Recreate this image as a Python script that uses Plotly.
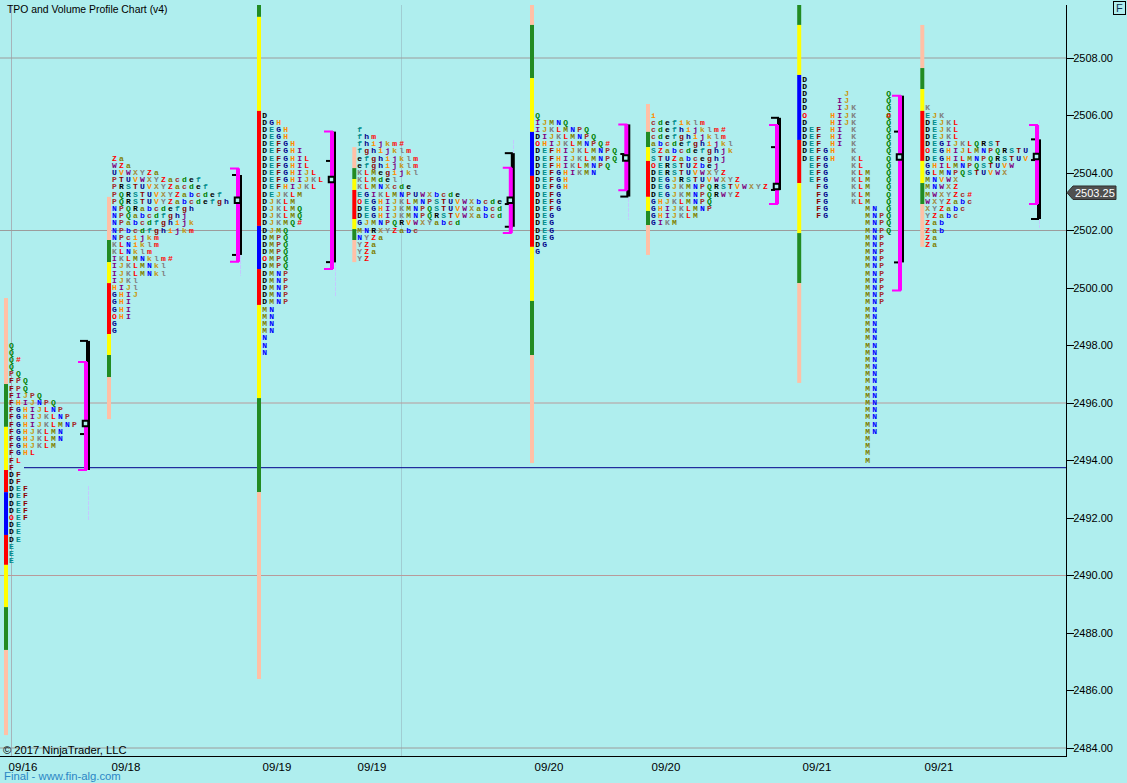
import plotly.graph_objects as go

# ---------- data ----------
PRICE_TICKS = [2484, 2486, 2488, 2490, 2492, 2494, 2496, 2498, 2500, 2502, 2504, 2506, 2508]
DATE_LABELS = ["09/16", "09/18", "09/19", "09/19", "09/20", "09/20", "09/21", "09/21"]
DATE_TIMES = [23, 126, 277, 372, 549, 666, 817, 939]

P1_TOP = 2498.00
P1_ROWS = ["Q", "Q", "Q#", "Q", "PQ", "FPQ", "FPQ", "FIJPQ", "FHIJNPQ", "FGHIJLNP", "FGHIJKLNP", "FGHIJKLMNP",
           "FGHJKLMN", "FGHJKLMN", "FGHJKLM", "FGHL", "FL", "F", "DF", "DF", "DEF", "DEF", "DEF", "DEF", "OEF",
           "DE", "DE", "DE", "E", "E", "E"]
P2_TOP = 2504.50
P2_ROWS = ["Za", "WZa", "UVWXYZa", "PTUVWXYZacdef", "PRSTUVXYZacdef", "PQRSTUVXYZabcdef", "PQRSTUVYZabcdefgh",
           "NPQRabcdefgh", "NPQabcdfghj", "NPabcdfghijk", "NPbcdfghijkm", "NPcijkm", "KLNiklm", "KLNklm",
           "IKLMNklm#", "IJKLMNkl", "IJKLMNkl", "IJKl", "HIJl", "GHIJ", "GHI", "GHI", "OHI", "G", "G"]
P3_TOP = 2506.00
P3_ROWS = ["D", "DGH", "DEGH", "DEGH", "DEFGH", "DEFGHI", "DEFGHIL", "DEFGHIL", "DEFGHIJL", "DEFGHIJKL", "DEFHIJKL",
           "DEJKLM", "DJKLM", "DJKLMQ", "DJKLMQ", "DJKMQ#", "DJMQ", "DMPQ", "DMPQ", "DMPQ", "OMPQ", "DMPQ",
           "DMNP", "DMNP", "DMNP", "DMNP", "DMNP", "MN", "MN", "MN", "MN", "N", "N", "N"]
P4_TOP = 2505.50
P4_ROWS = ["f", "fhm", "fhijkm#", "fghijklm", "efghijklm", "efghijklm", "KLMegijkl", "KLMdel", "KLMNXcde",
           "EGIKLMNPUWXbcde", "OEGHIJKLMNPSTUVWXbcde", "DEGHIJKMNPQSTUVWXabcd", "DEGHIJKMNPQRSTVWXabcd",
           "GJMNPQRVWXYabcd", "MNRXYZabc", "NYZa", "YZa", "YZa", "YZ"]
P5_TOP = 2506.00
P5_ROWS = ["Q", "IJMNQ", "IJKLMNPQ", "DIJKLMNPQ", "OHIJKLMNPQ#", "DEFHIJKLMNPQ", "DEFHIJKLMNPQ", "DEFHIKLMNPQ",
           "DEFGHIKMN", "DEFGH", "DEFGH", "DEFG", "DEFG", "DEFG", "DEG", "DEG", "DEG", "DEG", "DG", "G"]
P6_TOP = 2506.00
P6_ROWS = ["i", "cdefiklm", "cdefhijklm#", "cdefghijklm", "abcdefghijkl", "SZabcdefghjk", "STUZabceghj", "OERSTUZbej",
           "DERSTUVWXYZ", "DEGJRSTUVWXYZ", "DEGJKMNPQRSTVWXYZ", "DEGJKMNPQRWYZ", "GHJKLMNPQ", "GHIJKLMNP",
           "GHIJKLM", "GIKM"]
P7_TOP = 2507.25
P7_ROWS = ["D", "D", "DJQ", "DIJQ", "DIJKQ", "OHIJKQ", "DHIJKQ", "DEFHIKQ", "DEFHIKQ", "DEFHIKQ", "DEFGHKQ",
           "DEFGHKLQ", "EFGKLQ", "EFGKLMQ", "EFGKLMQ", "FGKLMQ", "FGKLMQ", "FGKLMQ", "FGMNQ", "FGMNPQ", "MNPQ", "MNPQ"]\
          + ["MNP"] * 10 + ["MN"] * 18 + ["M"] * 4
P7_MARK_TOP = 2506.00
P7_MARK_ROWS = ["#"]
P8_TOP = 2506.25
P8_ROWS = ["K", "EJK", "DEJKL", "DEJKL", "DEJKL", "DEGIJKLQRST", "OEGHIJLMNPQRSTU", "DEGHILMNPQRSTUV", "GHILMNPQSTUVW",
           "GLMNPQSTUVWX", "MNVWX", "MNWXZ", "MWXYZc#", "WXYZabc", "XYZabc", "YZabc", "Zab", "Zab", "Za", "Za"]

S, G, Y, R, B = "#FFC0A6", "#228B22", "#FFFF00", "#FF0000", "#0000FF"
BAR1_EDGES = [2499.65, 2496.66, 2495.17, 2493.67, 2492.90, 2491.41, 2490.37, 2488.90, 2487.41, 2484.45]
BAR1_COLS = [S, G, Y, R, B, R, Y, G, S]
BAR2_EDGES = [2503.17, 2501.67, 2500.90, 2500.17, 2498.40, 2497.67, 2496.90, 2495.44]
BAR2_COLS = [S, G, Y, R, Y, G, S]
BAR3_EDGES = [2510.00, 2509.43, 2506.16, 2502.16, 2500.66, 2499.41, 2496.17, 2492.90, 2486.40]
BAR3_COLS = [G, Y, R, B, R, Y, G, S]
BAR4_EDGES = [2504.90, 2504.17, 2503.79, 2503.41, 2502.40, 2502.05, 2501.67, 2500.90]
BAR4_COLS = [S, G, Y, R, Y, G, S]
BAR5_EDGES = [2510.00, 2509.15, 2507.30, 2505.43, 2503.90, 2501.43, 2499.55, 2497.67, 2493.91]
BAR5_COLS = [S, G, Y, B, R, Y, G, S]
BAR6_EDGES = [2506.40, 2505.43, 2504.90, 2504.42, 2503.17, 2502.68, 2502.19, 2501.15]
BAR6_COLS = [S, G, Y, R, Y, G, S]
BAR7_EDGES = [2510.00, 2509.15, 2507.41, 2505.15, 2503.65, 2501.91, 2500.17, 2496.70]
BAR7_COLS = [G, Y, B, R, Y, G, S]
BAR8_EDGES = [2509.15, 2507.65, 2506.92, 2506.16, 2504.42, 2503.65, 2502.92, 2501.43]
BAR8_COLS = [S, G, Y, R, Y, G, S]

MAGENTA_HIGH = [2497.43, 2504.16, 2505.44, 2504.18, 2505.69, 2505.67, 2506.69, 2505.67]
MAGENTA_LOW = [2493.67, 2500.91, 2500.66, 2501.91, 2503.40, 2502.92, 2499.91, 2502.92]
BLACK_HIGH = [2498.16, 2503.93, 2505.44, 2504.69, 2505.69, 2505.92, 2506.69, 2505.17]
BLACK_LOW = [2493.67, 2501.15, 2500.89, 2502.13, 2503.18, 2503.41, 2500.89, 2502.40]
BLACK_TICKS = [[2498.16, 2494.92], [2503.93, 2501.15], [2504.42, 2500.90], [2504.69, 2502.92, 2502.13],
               [2504.66, 2503.18], [2505.92, 2504.90, 2503.41], [2505.44, 2500.89], [2505.17, 2504.45, 2502.40]]
POC = [2495.29, 2503.05, 2503.77, 2503.05, 2504.52, 2503.53, 2504.56, 2504.57]
LAVENDER_HIGH = [2493.11, 2501.15, 2500.90, 2505.15, 2503.13, 2505.84]
LAVENDER_LOW = [2491.93, 2500.42, 2499.72, 2504.70, 2502.37, 2502.09]

LAST_PRICE = 2503.25
SESSION_LOW_LINE = 2493.75
GRID_PRICES = [2508, 2502, 2496, 2490, 2484]
GRID_COLS = ["#9C9C9C", "#9C9C9C", "#B89A9A", "#B89A9A", "#9C9C9C"]

LETTER_COLOURS = {
    "D": "#000000", "E": "#008B8B", "F": "#8B0000", "G": "#00008B", "H": "#FF8C00", "I": "#800080", "J": "#C8960C",
    "K": "#808080", "L": "#FF0000", "M": "#808000", "N": "#0000FF", "P": "#A52A2A", "Q": "#008000",
    "R": "#000000", "S": "#008B8B", "T": "#8B0000", "U": "#00008B", "V": "#FF8C00", "W": "#800080", "X": "#A88A40",
    "Y": "#808080", "Z": "#FF0000", "a": "#808000", "b": "#0000FF", "c": "#A52A2A", "d": "#008000",
    "e": "#000000", "f": "#008B8B", "g": "#8B0000", "h": "#00008B", "i": "#FF8C00", "j": "#800080", "k": "#C8960C",
    "l": "#808080", "m": "#FF0000", "O": "#FF0000", "#": "#FF0000",
}
FIXED_ORDER = "DEFGHIJKLMNPQ"

# ---------- layout constants ----------
W, H = 1127, 783
PLOT_R, PLOT_T, PLOT_B = 1066, 5, 756
PX_PER_POINT = 28.75
Y_TOP = 2508 + (58 - PLOT_T) / PX_PER_POINT
Y_BOT = 2484 - (PLOT_B - 748) / PX_PER_POINT
TEXT_STEP = 7.0
TPO_STEP = 0.25
BG = "#AFEEEE"

PROFILE_TEXT_X = [11.5, 114.5, 264.7, 359.7, 537.7, 653.3, 804.7, 804.7, 927.7]
BAR_X = [6, 109, 259, 354.3, 532, 648, 799.2, 922.3]
MAGENTA_X = [86, 238, 332, 510.8, 626.3, 777, 900, 1037]
LAVENDER_X = [88.5, 240.5, 335.5, 513.5, 628.5, 1039.5]


def px(x):
    return x / PLOT_R


def py(y):
    return (PLOT_B - y) / (PLOT_B - PLOT_T)


fig = go.Figure()

# stacked colour bars
for x, edges, cols in zip(BAR_X,
                          [BAR1_EDGES, BAR2_EDGES, BAR3_EDGES, BAR4_EDGES, BAR5_EDGES, BAR6_EDGES, BAR7_EDGES, BAR8_EDGES],
                          [BAR1_COLS, BAR2_COLS, BAR3_COLS, BAR4_COLS, BAR5_COLS, BAR6_COLS, BAR7_COLS, BAR8_COLS]):
    fig.add_trace(go.Bar(x=[x] * len(cols), base=edges[1:], y=[a - b for a, b in zip(edges[:-1], edges[1:])],
                         width=4, marker=dict(color=cols, line=dict(width=0)), hoverinfo="skip"))

# lavender dashes
for x, hi, lo in zip(LAVENDER_X, LAVENDER_HIGH, LAVENDER_LOW):
    fig.add_trace(go.Scatter(x=[x, x], y=[hi, lo], mode="lines", hoverinfo="skip",
                             line=dict(color="#C4C8FF", width=1, dash="4px,1px")))

# profile brackets
for i, x in enumerate(MAGENTA_X):
    fig.add_trace(go.Scatter(x=[x + 2, x + 2], y=[BLACK_HIGH[i], BLACK_LOW[i]], mode="lines", hoverinfo="skip",
                             line=dict(color="#000000", width=4)))
    for t in BLACK_TICKS[i]:
        fig.add_trace(go.Scatter(x=[x - 6, x + 2], y=[t, t], mode="lines", hoverinfo="skip",
                                 line=dict(color="#000000", width=2)))
    fig.add_trace(go.Scatter(x=[x - 8, x, x, x - 8], y=[MAGENTA_HIGH[i], MAGENTA_HIGH[i], MAGENTA_LOW[i], MAGENTA_LOW[i]],
                             mode="lines", hoverinfo="skip", line=dict(color="#FF00FF", width=2)))
    fig.add_trace(go.Scatter(x=[x, x], y=[MAGENTA_HIGH[i], MAGENTA_LOW[i]], mode="lines", hoverinfo="skip",
                             line=dict(color="#FF00FF", width=4)))
    fig.add_trace(go.Scatter(x=[x - 0.5], y=[POC[i]], mode="markers", hoverinfo="skip",
                             marker=dict(symbol="square", size=5.5, color=BG, line=dict(color="#000000", width=2))))

# TPO letters
tops = [P1_TOP, P2_TOP, P3_TOP, P4_TOP, P5_TOP, P6_TOP, P7_TOP, P7_MARK_TOP, P8_TOP]
rows_all = [P1_ROWS, P2_ROWS, P3_ROWS, P4_ROWS, P5_ROWS, P6_ROWS, P7_ROWS, P7_MARK_ROWS, P8_ROWS]
for idx, (x0, top, rows) in enumerate(zip(PROFILE_TEXT_X, tops, rows_all)):
    xs, ys, ts, cs = [], [], [], []
    fixed = idx in (6, 7)
    for r, row in enumerate(rows):
        for c, ch in enumerate(row):
            if fixed:
                col = 0 if ch == "O" else 12 if ch == "#" else FIXED_ORDER.index(ch)
            else:
                col = c
            xs.append(x0 + col * TEXT_STEP)
            ys.append(top - r * TPO_STEP)
            ts.append(ch)
            cs.append(LETTER_COLOURS[ch])
    fig.add_trace(go.Scatter(x=xs, y=ys, text=ts, mode="text", textposition="middle center", hoverinfo="skip",
                             textfont=dict(family="Liberation Mono", size=8, color=cs, weight="bold")))

shapes = []
for p, c in zip(GRID_PRICES, GRID_COLS):
    shapes.append(dict(type="line", xref="x", yref="y", x0=0, x1=PLOT_R, y0=p, y1=p, layer="below",
                       line=dict(color=c, width=1)))
shapes.append(dict(type="line", xref="x", yref="y", x0=24, x1=PLOT_R, y0=SESSION_LOW_LINE, y1=SESSION_LOW_LINE,
                   layer="below", line=dict(color="#00008B", width=1)))
for x, c in [(11.5, "#A6B4BA"), (401.5, "#A0CDD2")]:
    shapes.append(dict(type="line", xref="x", yref="paper", x0=x, x1=x, y0=0, y1=1, layer="below",
                       line=dict(color=c, width=1)))
# last-price flag
flag = [(1067, 192.7), (1073, 186), (1116, 186), (1116, 199.5), (1073, 199.5)]
path = "M " + " L ".join(f"{px(a):.5f},{py(b):.5f}" for a, b in flag) + " Z"
shapes.append(dict(type="path", xref="paper", yref="paper", path=path, fillcolor="#505050",
                   line=dict(color="#303030", width=1)))

SANS = "Liberation Sans"
annotations = [
    dict(text="TPO and Volume Profile Chart (v4)", x=px(5), y=py(9), font=dict(family=SANS, size=10.4, color="#000000")),
    dict(text="© 2017 NinjaTrader, LLC", x=px(1), y=py(750), font=dict(family=SANS, size=11.2, color="#000000")),
    dict(text="Final - www.fin-alg.com", x=px(2), y=py(776), font=dict(family=SANS, size=11.3, color="#2B86C5")),
]
for a in annotations:
    a.update(xref="paper", yref="paper", xanchor="left", yanchor="middle", showarrow=False)
annotations.append(dict(text=f"{LAST_PRICE:.2f}", xref="paper", yref="paper", x=px(1095), y=py(193), showarrow=False,
                        xanchor="center", yanchor="middle", font=dict(family=SANS, size=11, color="#FFFFFF")))
annotations.append(dict(text="F", xref="paper", yref="paper", x=px(1119), y=py(8), showarrow=False,
                        xanchor="center", yanchor="middle", bordercolor="#000000", borderwidth=1, borderpad=1,
                        width=9, height=10, font=dict(family=SANS, size=11, color="#103050")))

fig.update_layout(
    width=W, height=H, autosize=False, showlegend=False, barmode="overlay", hovermode=False,
    paper_bgcolor=BG, plot_bgcolor=BG,
    margin=dict(l=0, r=W - PLOT_R, t=PLOT_T, b=H - PLOT_B, pad=0),
    shapes=shapes, annotations=annotations,
    xaxis=dict(range=[0, PLOT_R], tickmode="array", tickvals=DATE_TIMES, ticktext=DATE_LABELS, ticks="",
               showgrid=False, zeroline=False, showline=True, linecolor="#000000", linewidth=1,
               tickfont=dict(family=SANS, size=11.5, color="#000000"), tickangle=0),
    yaxis=dict(range=[Y_BOT, Y_TOP], side="right", tickmode="array", tickvals=PRICE_TICKS,
               ticktext=[f"{v:.2f}" for v in PRICE_TICKS], ticks="outside", ticklen=7, tickwidth=1, tickcolor="#000000",
               showgrid=False, zeroline=False, showline=True, linecolor="#000000", linewidth=1, ticklabelstandoff=-3,
               tickfont=dict(family=SANS, size=11, color="#000000")),
)

fig.write_html("out.html", config={"displayModeBar": False},
               post_script="document.body.style.margin='0';document.documentElement.style.overflow='hidden';")
